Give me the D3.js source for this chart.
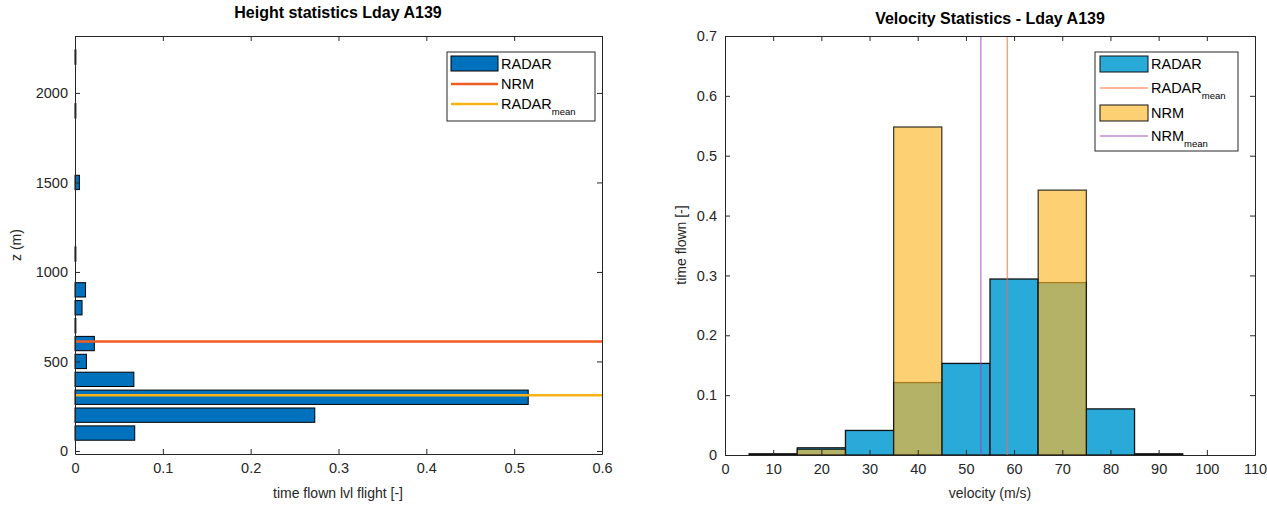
<!DOCTYPE html>
<html>
<head>
<meta charset="utf-8">
<script src="https://cdn.jsdelivr.net/npm/d3@7"></script>
<style>
  body { margin: 0; background: #fff; }
  svg { font-family: "Liberation Sans", Arial, sans-serif; }
  .axis path, .axis line { stroke: #262626; }
  .axis text { fill: #262626; }
</style>
</head>
<body>
<svg id="chart" width="1267" height="506"></svg>
<script>
// --- Data ---
// Left panel: level flight time share per height bin (bin width 100 m)
const heightBins = [100, 200, 300, 400, 500, 600, 700, 800, 900, 1100, 1500, 1900, 2200];
const heightShare = [0.068, 0.273, 0.516, 0.067, 0.013, 0.022, 0.001, 0.008, 0.012, 0.001, 0.005, 0.001, 0.001];
const nrmHeight = 612;
const radarHeightMean = 311;
const heightTicks = [0, 500, 1000, 1500, 2000];
const shareTicks = [0, 0.1, 0.2, 0.3, 0.4, 0.5, 0.6];

// Right panel: velocity histograms (bin width 10 m/s)
const velCenters = [10, 20, 30, 40, 50, 60, 70, 80, 90];
const radarVel = [0.002, 0.012, 0.041, 0.121, 0.153, 0.294, 0.288, 0.077, 0.002];
const nrmVel = [0, 0.0095, 0, 0.548, 0, 0, 0.4425, 0, 0];
const radarVelMean = 58.6;
const nrmVelMean = 53.1;
const velTicks = [0, 10, 20, 30, 40, 50, 60, 70, 80, 90, 100, 110];
const timeTicks = [0, 0.1, 0.2, 0.3, 0.4, 0.5, 0.6, 0.7];

const svg = d3.select("#chart");
const fmt = (d) => String(+d.toFixed(3));

// draws a MATLAB-like box with inward ticks on all four sides
function drawFrame(g, x, y, xTicks, yTicks, yPad) {
  const [x0, x1] = x.range();
  const [y1, y0] = y.range();
  const axes = [
    g.append("g").attr("transform", `translate(0,${y1})`)
      .call(d3.axisBottom(x).tickValues(xTicks).tickSizeInner(-5).tickSizeOuter(0).tickPadding(9).tickFormat(fmt)),
    g.append("g").attr("transform", `translate(0,${y0})`)
      .call(d3.axisTop(x).tickValues(xTicks).tickSizeInner(-5).tickSizeOuter(0).tickFormat("")),
    g.append("g").attr("transform", `translate(${x0},0)`)
      .call(d3.axisLeft(y).tickValues(yTicks).tickSizeInner(-5).tickSizeOuter(0).tickPadding(yPad).tickFormat(fmt)),
    g.append("g").attr("transform", `translate(${x1},0)`)
      .call(d3.axisRight(y).tickValues(yTicks).tickSizeInner(-5).tickSizeOuter(0).tickFormat("")),
  ];
  axes.forEach((a) => a.attr("class", "axis").attr("font-size", 14.5).attr("font-family", null));
}

function label(g, text, x, y, opts = {}) {
  const t = g.append("text")
    .attr("x", x).attr("y", y)
    .attr("text-anchor", "middle")
    .attr("fill", opts.color || "#262626")
    .attr("font-size", opts.size || 14)
    .attr("font-weight", opts.bold ? "bold" : "normal")
    .text(text);
  if (opts.rotate) t.attr("transform", `rotate(-90,${x},${y})`);
  return t;
}

function legendText(g, x, y, main, sub) {
  const t = g.append("text").attr("x", x).attr("y", y + 5)
    .attr("font-size", 14.5).attr("fill", "#000").text(main);
  if (sub) t.append("tspan").attr("font-size", 9.5).attr("dy", 6).text(sub);
}

// --- Left panel: height statistics ---
const left = svg.append("g");
const xL = d3.scaleLinear().domain([0, 0.6]).range([75, 602]);
const yL = d3.scaleLinear().domain([-17, 2318]).range([454, 36]);

left.selectAll("rect.bar").data(heightBins).join("rect")
  .attr("class", "bar")
  .attr("x", xL(0))
  .attr("y", (d) => yL(d + 40))
  .attr("width", (d, i) => xL(heightShare[i]) - xL(0))
  .attr("height", (d) => yL(d - 40) - yL(d + 40))
  .attr("fill", "#0072BD")
  .attr("stroke", "#000")
  .attr("stroke-width", 1);

left.append("line")
  .attr("x1", xL(0)).attr("x2", xL(0.6))
  .attr("y1", yL(nrmHeight)).attr("y2", yL(nrmHeight))
  .attr("stroke", "#F05A23").attr("stroke-width", 2.5);
left.append("line")
  .attr("x1", xL(0)).attr("x2", xL(0.6))
  .attr("y1", yL(radarHeightMean)).attr("y2", yL(radarHeightMean))
  .attr("stroke", "#F9B317").attr("stroke-width", 2.5);

drawFrame(left, xL, yL, shareTicks, heightTicks, 7);
label(left, "Height statistics Lday A139", 338, 18, { bold: true, size: 16, color: "#000" });
label(left, "time flown lvl flight [-]", 338, 498);
label(left, "z (m)", 21, 245, { rotate: true });

// legend (left)
const legL = left.append("g");
legL.append("rect").attr("x", 447).attr("y", 52).attr("width", 148).attr("height", 69)
  .attr("fill", "#fff").attr("stroke", "#262626").attr("stroke-width", 1);
legL.append("rect").attr("x", 451).attr("y", 56).attr("width", 47).attr("height", 15)
  .attr("fill", "#0072BD").attr("stroke", "#000");
legendText(legL, 501, 64, "RADAR");
legL.append("line").attr("x1", 451).attr("x2", 498).attr("y1", 84).attr("y2", 84)
  .attr("stroke", "#F05A23").attr("stroke-width", 2.5);
legendText(legL, 501, 84, "NRM");
legL.append("line").attr("x1", 451).attr("x2", 498).attr("y1", 104).attr("y2", 104)
  .attr("stroke", "#F9B317").attr("stroke-width", 2.5);
legendText(legL, 501, 104, "RADAR", "mean");

// --- Right panel: velocity statistics ---
const right = svg.append("g");
const xR = d3.scaleLinear().domain([0, 110]).range([725, 1255]);
const yR = d3.scaleLinear().domain([0, 0.7]).range([455, 36]);

right.selectAll("rect.radar").data(velCenters).join("rect")
  .attr("class", "radar")
  .attr("x", (d) => xR(d - 5))
  .attr("width", (d) => xR(d + 5) - xR(d - 5))
  .attr("y", (d, i) => yR(radarVel[i]))
  .attr("height", (d, i) => yR(0) - yR(radarVel[i]))
  .attr("fill", "#2AAAD9")
  .attr("stroke", "#111")
  .attr("stroke-width", 1.3);

right.selectAll("rect.nrm").data(velCenters.filter((d, i) => nrmVel[i] > 0)).join("rect")
  .attr("class", "nrm")
  .attr("x", (d) => xR(d - 5))
  .attr("width", (d) => xR(d + 5) - xR(d - 5))
  .attr("y", (d) => yR(nrmVel[velCenters.indexOf(d)]))
  .attr("height", (d) => yR(0) - yR(nrmVel[velCenters.indexOf(d)]))
  .attr("fill", "#FDB72A").attr("fill-opacity", 0.65)
  .attr("stroke", "#111").attr("stroke-opacity", 0.8)
  .attr("stroke-width", 1.3);

right.append("line")
  .attr("x1", xR(radarVelMean)).attr("x2", xR(radarVelMean))
  .attr("y1", yR(0)).attr("y2", yR(0.7))
  .attr("stroke", "#FF6A33").attr("stroke-opacity", 0.65).attr("stroke-width", 1.5);
right.append("line")
  .attr("x1", xR(nrmVelMean)).attr("x2", xR(nrmVelMean))
  .attr("y1", yR(0)).attr("y2", yR(0.7))
  .attr("stroke", "#9A3FB0").attr("stroke-opacity", 0.6).attr("stroke-width", 1.5);

drawFrame(right, xR, yR, velTicks, timeTicks, 8);
label(right, "Velocity Statistics - Lday A139", 990, 24, { bold: true, size: 16, color: "#000" });
label(right, "velocity (m/s)", 990, 498);
label(right, "time flown [-]", 686, 245, { rotate: true });

// legend (right)
const legR = right.append("g");
legR.append("rect").attr("x", 1095).attr("y", 52).attr("width", 143).attr("height", 99)
  .attr("fill", "#fff").attr("stroke", "#262626").attr("stroke-width", 1);
legR.append("rect").attr("x", 1100).attr("y", 56).attr("width", 48).attr("height", 16)
  .attr("fill", "#2AAAD9").attr("stroke", "#111");
legendText(legR, 1151, 64, "RADAR");
legR.append("line").attr("x1", 1100).attr("x2", 1148).attr("y1", 88).attr("y2", 88)
  .attr("stroke", "#FF6A33").attr("stroke-opacity", 0.65).attr("stroke-width", 1.5);
legendText(legR, 1151, 88, "RADAR", "mean");
legR.append("rect").attr("x", 1100).attr("y", 105).attr("width", 48).attr("height", 16)
  .attr("fill", "#FDB72A").attr("fill-opacity", 0.65).attr("stroke", "#111");
legendText(legR, 1151, 113, "NRM");
legR.append("line").attr("x1", 1100).attr("x2", 1148).attr("y1", 136).attr("y2", 136)
  .attr("stroke", "#9A3FB0").attr("stroke-opacity", 0.6).attr("stroke-width", 1.5);
legendText(legR, 1151, 136, "NRM", "mean");
</script>
</body>
</html>
